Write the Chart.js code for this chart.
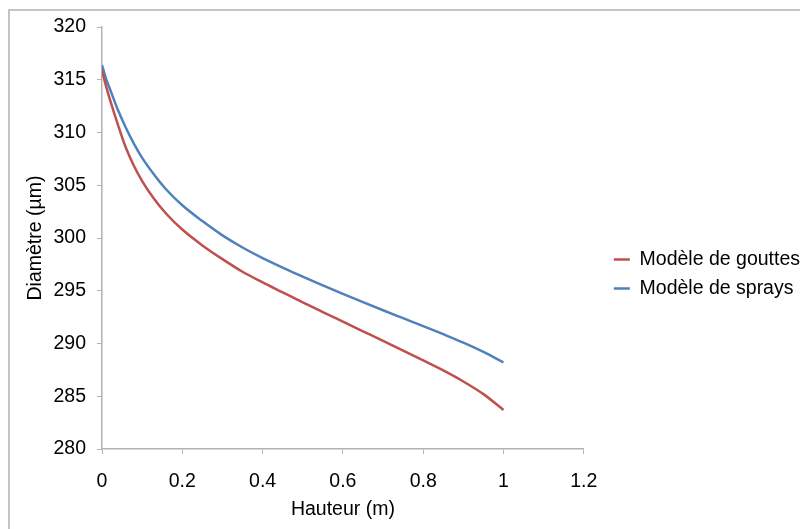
<!DOCTYPE html>
<html>
<head>
<meta charset="utf-8">
<script src="https://cdn.jsdelivr.net/npm/chart.js@4.4.1/dist/chart.umd.min.js"></script>
<style>
  html, body { margin: 0; padding: 0; background: #fff; }
  body { width: 800px; height: 529px; position: relative; overflow: hidden; }
  #frame { position: absolute; left: 8px; top: 9px; width: 800px; height: 530px;
           border-top: 2px solid #c4c4c4; border-left: 2px solid #c4c4c4; }
  #wrap { position: absolute; left: 10px; top: 11px; width: 800px; height: 518px; }
</style>
</head>
<body>
<div id="frame"></div>
<div id="wrap"><canvas id="chart"></canvas></div>
<script>
// Hauteur (m)
const heights = [0, 0.01, 0.02, 0.04, 0.06, 0.08, 0.1, 0.13, 0.16, 0.2, 0.25, 0.3, 0.35,
  0.4, 0.45, 0.5, 0.55, 0.6, 0.65, 0.7, 0.75, 0.8, 0.85, 0.9, 0.95, 1.0];

// Diamètre (µm)
const gouttes = [315.9, 314.4, 313.1, 310.7, 308.5, 306.8, 305.4, 303.7, 302.3, 300.8, 299.3, 298.0, 296.8,
  295.8, 294.85, 293.9, 292.98, 292.07, 291.16, 290.25, 289.33, 288.4, 287.45, 286.4, 285.2, 283.7];
const sprays = [316.4, 315.1, 314.1, 312.1, 310.4, 308.9, 307.6, 306.0, 304.6, 303.1, 301.6, 300.25, 299.1,
  298.1, 297.2, 296.33, 295.5, 294.7, 293.92, 293.15, 292.4, 291.65, 290.88, 290.08, 289.2, 288.2];

const seriesNames = ['Modèle de gouttes', 'Modèle de sprays'];
const xTicks = [0, 0.2, 0.4, 0.6, 0.8, 1, 1.2];
const xTickLabels = ['0', '0.2', '0.4', '0.6', '0.8', '1', '1.2'];
const yTicks = [280, 285, 290, 295, 300, 305, 310, 315, 320];

const toPoints = (ys) => heights.map((h, i) => ({ x: h, y: ys[i] }));

const axisGray = '#b3b3b3';
const font = { family: 'Liberation Sans, Arial, sans-serif', size: 19.5 };

new Chart(document.getElementById('chart'), {
  type: 'scatter',
  data: {
    datasets: [
      {
        label: seriesNames[0],
        data: toPoints(gouttes),
        borderColor: '#c0504d',
        backgroundColor: '#c0504d',
        showLine: true,
        borderWidth: 2.5,
        pointRadius: 0,
        cubicInterpolationMode: 'monotone',
      },
      {
        label: seriesNames[1],
        data: toPoints(sprays),
        borderColor: '#4f81bd',
        backgroundColor: '#4f81bd',
        showLine: true,
        borderWidth: 2.5,
        pointRadius: 0,
        cubicInterpolationMode: 'monotone',
      }
    ]
  },
  options: {
    responsive: true,
    maintainAspectRatio: false,
    animation: false,
    layout: { padding: { top: 16, bottom: 8, left: 0, right: 0 } },
    plugins: {
      tooltip: { enabled: false },
      legend: {
        position: 'right',
        maxWidth: 260,
        labels: {
          usePointStyle: true,
          pointStyle: 'line',
          pointStyleWidth: 16,
          color: '#000',
          font: font,
          padding: 9.5,
        }
      }
    },
    scales: {
      x: {
        type: 'linear',
        min: 0,
        max: 1.2,
        afterBuildTicks: (scale) => { scale.ticks = xTicks.map(v => ({ value: v })); },
        afterFit: (scale) => { scale.height = 72; },
        ticks: {
          color: '#000',
          font: font,
          padding: 16,
          callback: (v) => xTickLabels[xTicks.indexOf(v)],
        },
        grid: { drawOnChartArea: false, color: axisGray, tickLength: 5 },
        border: { color: axisGray, width: 1.5 },
        title: { display: true, text: 'Hauteur (m)', color: '#000', font: font, padding: { top: 2, bottom: 0 } },
      },
      y: {
        type: 'linear',
        min: 280,
        max: 320,
        afterBuildTicks: (scale) => { scale.ticks = yTicks.map(v => ({ value: v })); },
        afterFit: (scale) => {
          scale.width = 92;
          scale.paddingTop = 0;
          scale.paddingBottom = 0;
        },
        ticks: { color: '#000', font: font, padding: 11 },
        grid: { drawOnChartArea: false, color: axisGray, tickLength: 5 },
        border: { color: axisGray, width: 1.5 },
        title: { display: true, text: 'Diamètre (µm)', color: '#000', font: font, padding: { top: 14, bottom: 0 } },
      },
      // empty spacer between the plot and the legend
      gap: {
        type: 'linear',
        position: 'right',
        display: true,
        afterFit: (scale) => { scale.width = 20.5; },
        ticks: { display: false },
        grid: { display: false },
        border: { display: false },
      }
    }
  }
});
</script>
</body>
</html>
